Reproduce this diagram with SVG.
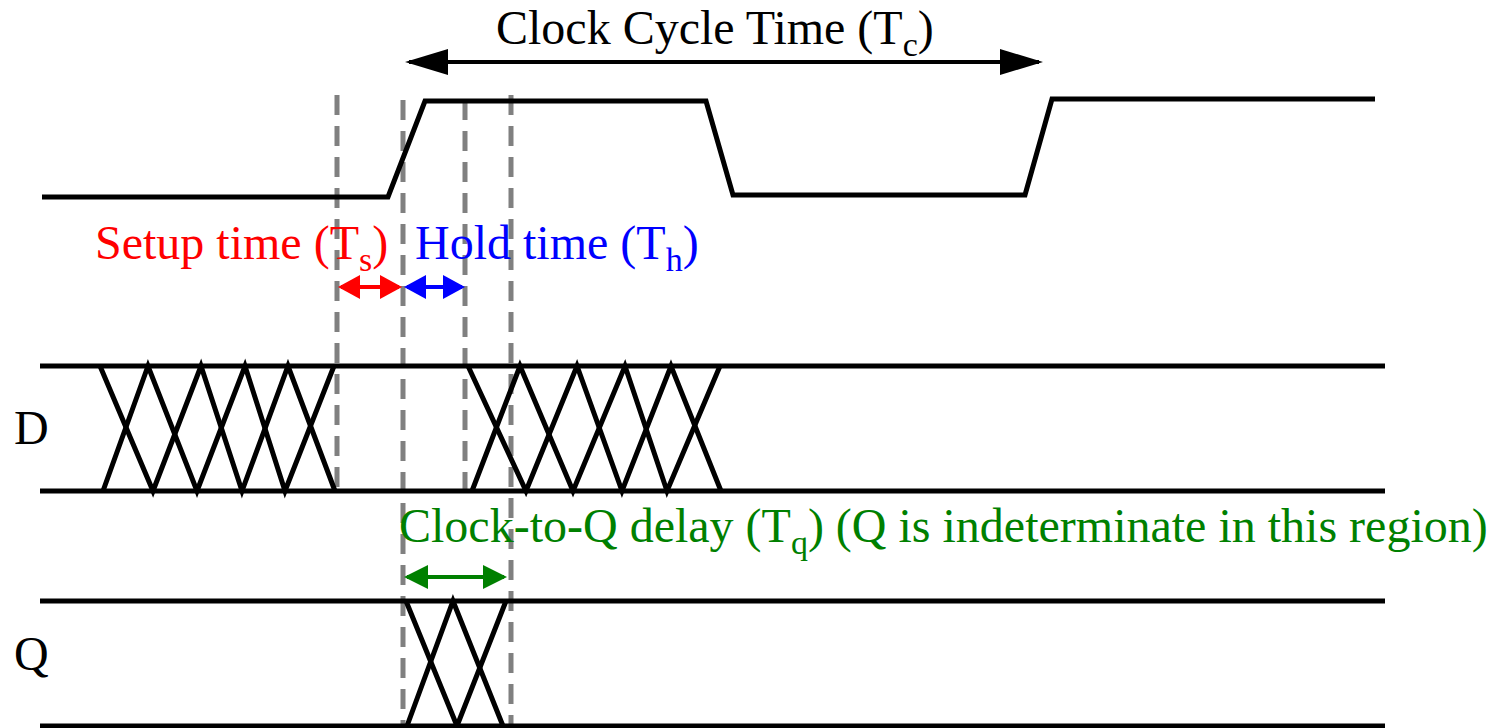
<svg xmlns="http://www.w3.org/2000/svg" width="1494" height="728" viewBox="0 0 1494 728">
<style>
.sig{fill:none;stroke:#000;stroke-width:5;stroke-linejoin:miter}
.dash{fill:none;stroke:#808080;stroke-width:5;stroke-dasharray:20,11}
.t{font-family:"Liberation Serif","Times New Roman",serif;font-size:48px}
.sub{font-size:34px}
</style>
<defs>
<marker id="hk" markerUnits="userSpaceOnUse" viewBox="0 0 43 26" refX="39" refY="13" markerWidth="43" markerHeight="26" orient="auto-start-reverse"><path d="M0,0 L43,13 L0,26 z" fill="#000"/></marker>
<marker id="hr" markerUnits="userSpaceOnUse" viewBox="0 0 22 24" refX="19" refY="12" markerWidth="22" markerHeight="24" orient="auto-start-reverse"><path d="M0,0 L22,12 L0,24 z" fill="#ff0000"/></marker>
<marker id="hb" markerUnits="userSpaceOnUse" viewBox="0 0 22 24" refX="19" refY="12" markerWidth="22" markerHeight="24" orient="auto-start-reverse"><path d="M0,0 L22,12 L0,24 z" fill="#0000ff"/></marker>
<marker id="hg" markerUnits="userSpaceOnUse" viewBox="0 0 24 24" refX="21" refY="12" markerWidth="24" markerHeight="24" orient="auto-start-reverse"><path d="M0,0 L24,12 L0,24 z" fill="#008000"/></marker>
</defs>
<rect width="1494" height="728" fill="#fff"/>

<g id="guides">
<line class="dash" x1="337" y1="95" x2="337" y2="493"/>
<line class="dash" x1="403" y1="100" x2="403" y2="728"/>
<line class="dash" x1="465" y1="100" x2="465" y2="493"/>
<line class="dash" x1="511" y1="95" x2="511" y2="728"/>
</g>

<g id="clock">
<path class="sig" d="M42,197 L388,197 L425,101 L706,101 L733,195 L1025,195 L1052,99 L1375,99"/>
</g>

<g id="D">
<text class="t" x="14" y="444">D</text>
<line class="sig" x1="40" y1="366" x2="1385" y2="366"/>
<line class="sig" x1="40" y1="491" x2="1385" y2="491"/>
<polyline class="sig" points="100,366 153,491 201,366 242,491 288,366 335,491"/>
<polyline class="sig" points="103,491 148,366 197,491 245,366 285,491 334,366"/>
<polyline class="sig" points="468,366 526,491 577,366 622,491 671,366 721,491"/>
<polyline class="sig" points="472,491 520,366 573,491 625,366 667,491 720,366"/>
</g>

<g id="Q">
<text class="t" x="14" y="670">Q</text>
<line class="sig" x1="40" y1="601" x2="1385" y2="601"/>
<line class="sig" x1="40" y1="726" x2="1385" y2="726"/>
<polyline class="sig" points="406,601 457,726 506,601"/>
<polyline class="sig" points="407,726 453,601 503,726"/>
</g>

<g id="connectors">
<line x1="409" y1="62" x2="1039" y2="62" stroke="#000" stroke-width="4" marker-start="url(#hk)" marker-end="url(#hk)"/>
<line x1="341" y1="287" x2="399" y2="287" stroke="#ff0000" stroke-width="4" marker-start="url(#hr)" marker-end="url(#hr)"/>
<line x1="407" y1="287" x2="462" y2="287" stroke="#0000ff" stroke-width="4" marker-start="url(#hb)" marker-end="url(#hb)"/>
<line x1="407" y1="577" x2="504" y2="577" stroke="#008000" stroke-width="4" marker-start="url(#hg)" marker-end="url(#hg)"/>
</g>

<g id="labels">
<text class="t" x="496" y="44">Clock Cycle Time (T<tspan class="sub" dy="12">c</tspan><tspan dy="-12">)</tspan></text>
<text class="t" x="95" y="259" fill="#ff0000">Setup time (T<tspan class="sub" dy="12">s</tspan><tspan dy="-12">)</tspan></text>
<text class="t" x="415" y="259" fill="#0000ff">Hold time (T<tspan class="sub" dy="12">h</tspan><tspan dy="-12">)</tspan></text>
<text class="t" x="399" y="542" fill="#008000">Clock-to-Q delay (T<tspan class="sub" dy="12">q</tspan><tspan dy="-12">) (Q is indeterminate in this region)</tspan></text>
</g>
</svg>
